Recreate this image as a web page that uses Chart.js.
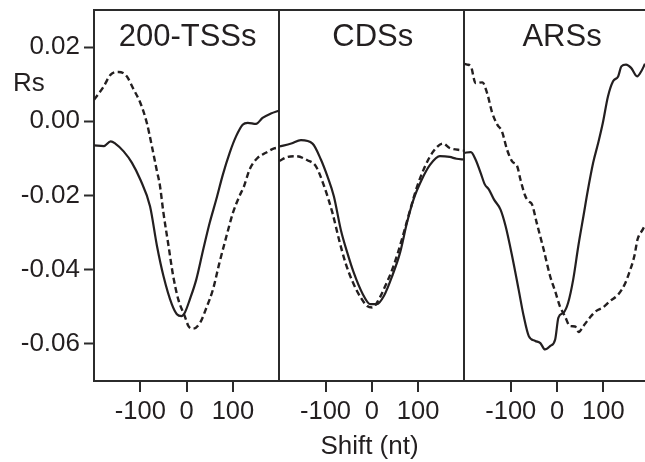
<!DOCTYPE html>
<html><head><meta charset="utf-8">
<script src="https://cdn.jsdelivr.net/npm/chart.js@4.4.0/dist/chart.umd.min.js"></script>
<style>html,body{margin:0;padding:0;background:#fff;overflow:hidden}#wrap{width:645px;height:462px;position:relative}</style>
</head><body><div id="wrap"><canvas id="c" width="645" height="462"></canvas></div>
<script>
const panelTitles = ['200-TSSs', 'CDSs', 'ARSs'];
const panelOffsets = [0, 400, 800];
const xTickValues = [-100, 0, 100];
const yTickValues = [-0.06, -0.04, -0.02, 0, 0.02];
const xAxisTitle = 'Shift (nt)';
const yAxisTitle = 'Rs';

// 200-TSSs
const tssSolidX = [-200,-179,-164,-154,-136,-118,-100,-79,-64,-50,-32,-21,-11,-4,7,21,36,50,64,78,93,107,121,132,150,164,182,200];
const tssSolidY = [-0.0065,-0.0067,-0.0054,-0.0060,-0.0081,-0.0112,-0.0157,-0.0229,-0.0336,-0.0417,-0.0493,-0.0520,-0.0525,-0.0516,-0.0480,-0.0426,-0.0345,-0.0273,-0.0211,-0.0145,-0.0085,-0.0040,-0.0009,-0.0004,-0.0007,0.0009,0.0021,0.0029];
const tssDashX = [-200,-179,-164,-147,-137,-129,-114,-100,-86,-75,-64,-58,-50,-39,-29,-18,-4,4,14,29,43,57,71,86,100,114,124,136,153,171,189,200];
const tssDashY = [0.0058,0.0094,0.0126,0.0133,0.0130,0.0121,0.0085,0.0050,-0.0004,-0.0067,-0.0135,-0.0170,-0.0247,-0.0336,-0.0417,-0.0480,-0.0525,-0.0552,-0.0559,-0.0543,-0.0502,-0.0453,-0.0381,-0.0310,-0.0247,-0.0202,-0.0175,-0.0130,-0.0099,-0.0085,-0.0073,-0.0071];

// CDSs
const cdsSolidX = [-200,-174,-153,-128,-110,-96,-82,-67,-53,-39,-21,-3,11,26,44,61,76,90,108,126,147,168,183,200];
const cdsSolidY = [-0.0068,-0.0060,-0.0051,-0.0060,-0.0103,-0.0148,-0.0202,-0.0292,-0.0354,-0.0408,-0.0462,-0.0493,-0.0493,-0.0471,-0.0417,-0.0354,-0.0273,-0.0211,-0.0157,-0.0117,-0.0094,-0.0096,-0.0101,-0.0103];
const cdsDashX = [-200,-182,-164,-139,-121,-103,-85,-71,-57,-42,-24,-10,1,11,29,47,65,83,97,115,133,154,168,194,200];
const cdsDashY = [-0.0107,-0.0096,-0.0094,-0.0105,-0.0121,-0.0175,-0.0247,-0.0318,-0.0381,-0.0431,-0.0475,-0.0498,-0.0502,-0.0489,-0.0444,-0.0390,-0.0318,-0.0238,-0.0179,-0.0121,-0.0081,-0.0060,-0.0072,-0.0078,-0.0079];

// ARSs
const arsSolidX = [-200,-186,-176,-165,-156,-147,-136,-122,-111,-97,-83,-72,-61,-47,-36,-26,-15,-4,3,14,24,35,46,57,66,78,89,99,110,121,132,139,149,160,173,182,190];
const arsSolidY = [-0.0085,-0.0083,-0.0103,-0.0139,-0.0170,-0.0184,-0.0211,-0.0238,-0.0283,-0.0363,-0.0453,-0.0525,-0.0579,-0.0592,-0.0598,-0.0615,-0.0606,-0.0588,-0.0529,-0.0516,-0.0489,-0.0426,-0.0336,-0.0256,-0.0190,-0.0112,-0.0058,-0.0004,0.0067,0.0108,0.0121,0.0148,0.0153,0.0144,0.0121,0.0135,0.0155];
const arsDashX = [-200,-194,-186,-176,-161,-151,-140,-129,-119,-108,-97,-86,-79,-69,-62,-54,-44,-29,-15,-4,6,17,28,39,47,57,71,85,99,114,132,146,156,167,174,185,190];
const arsDashY = [0.0155,0.0153,0.0148,0.0103,0.0105,0.0076,0.0023,-0.0009,-0.0027,-0.0076,-0.0108,-0.0121,-0.0157,-0.0200,-0.0215,-0.0224,-0.0273,-0.0345,-0.0417,-0.0458,-0.0498,-0.0525,-0.0552,-0.0553,-0.0568,-0.0552,-0.0529,-0.0511,-0.0502,-0.0485,-0.0467,-0.0440,-0.0408,-0.0363,-0.0318,-0.0292,-0.0280];

const INK = '#231f20';
const AXIS = '#2b2b2b';
const FONT = "'Liberation Sans', Arial, Helvetica, sans-serif";
const CLEAR = 'rgba(0,0,0,0)';

const series = [
  { xs: tssSolidX, ys: tssSolidY, panel: 0, dashed: false },
  { xs: tssDashX,  ys: tssDashY,  panel: 0, dashed: true },
  { xs: cdsSolidX, ys: cdsSolidY, panel: 1, dashed: false },
  { xs: cdsDashX,  ys: cdsDashY,  panel: 1, dashed: true },
  { xs: arsSolidX, ys: arsSolidY, panel: 2, dashed: false },
  { xs: arsDashX,  ys: arsDashY,  panel: 2, dashed: true }
];

const separators = panelOffsets.slice(0, -1).map(o => o + 200);
const isSep = v => separators.some(s => Math.abs(s - v) < 1e-6);

const datasets = series.map(s => ({
  data: s.xs.map((x, i) => ({ x: x + panelOffsets[s.panel], y: s.ys[i] })),
  borderColor: INK,
  borderWidth: s.dashed ? 2.4 : 2.2,
  borderDash: s.dashed ? [6, 3.5] : [],
  pointRadius: 0,
  fill: false,
  cubicInterpolationMode: 'monotone'
}));

const framePlugin = {
  id: 'frame',
  afterDraw(chart) {
    const { ctx, chartArea: a, scales: { x } } = chart;
    ctx.save();
    ctx.strokeStyle = AXIS;
    ctx.lineWidth = 2;
    ctx.beginPath();
    ctx.moveTo(a.left - 1, a.top);
    ctx.lineTo(a.right, a.top);
    ctx.stroke();
    ctx.fillStyle = INK;
    ctx.font = '31px ' + FONT;
    ctx.textAlign = 'center';
    ctx.textBaseline = 'alphabetic';
    panelTitles.forEach((t, i) => {
      const nudge = i === panelTitles.length - 1 ? 5 : 1;
      ctx.fillText(t, x.getPixelForValue(panelOffsets[i]) + nudge, a.top + 36);
    });
    ctx.font = '26px ' + FONT;
    ctx.textAlign = 'left';
    ctx.fillText(yAxisTitle, 13, 91);
    ctx.restore();
  }
};

new Chart(document.getElementById('c'), {
  type: 'line',
  data: { datasets },
  plugins: [framePlugin],
  options: {
    responsive: false,
    animation: false,
    events: [],
    layout: { padding: { top: 10, left: 0, right: 0, bottom: 0 } },
    plugins: { legend: { display: false }, tooltip: { enabled: false }, title: { display: false } },
    scales: {
      x: {
        type: 'linear',
        min: -200,
        max: 990,
        afterBuildTicks: s => {
          const t = [];
          panelOffsets.forEach((o, i) => {
            xTickValues.forEach(v => t.push({ value: v + o }));
            if (i < panelOffsets.length - 1) t.push({ value: o + 200 });
          });
          s.ticks = t;
        },
        ticks: {
          autoSkip: false,
          maxRotation: 0,
          padding: 5,
          color: INK,
          font: { family: FONT, size: 25.5 },
          callback: v => isSep(v) ? '' : String(Math.round((((v + 200) % 400) + 400) % 400 - 200))
        },
        grid: {
          drawOnChartArea: true,
          drawTicks: true,
          tickLength: 11,
          lineWidth: 2,
          tickWidth: 2,
          color: c => (c.tick && isSep(c.tick.value)) ? AXIS : CLEAR,
          tickColor: c => (c.tick && isSep(c.tick.value)) ? CLEAR : AXIS
        },
        border: { display: true, color: AXIS, width: 2 },
        title: { display: true, text: xAxisTitle, color: INK, font: { family: FONT, size: 26 }, padding: { top: 0, bottom: 0 } },
        afterFit: s => { s.height = 81; s.paddingLeft = 0; s.paddingRight = 0; }
      },
      y: {
        type: 'linear',
        min: -0.07,
        max: 0.03,
        afterBuildTicks: s => { s.ticks = yTickValues.map(v => ({ value: v })); },
        ticks: {
          padding: 4,
          color: INK,
          font: { family: FONT, size: 26 },
          callback: v => (Math.abs(v) < 1e-9 ? 0 : v).toFixed(2)
        },
        grid: { drawOnChartArea: false, drawTicks: true, tickLength: 10, tickWidth: 2, tickColor: AXIS },
        border: { display: true, color: AXIS, width: 2 },
        afterFit: s => { s.width = 94; s.paddingTop = 0; s.paddingBottom = 0; }
      }
    }
  }
});
</script>
</body></html>
